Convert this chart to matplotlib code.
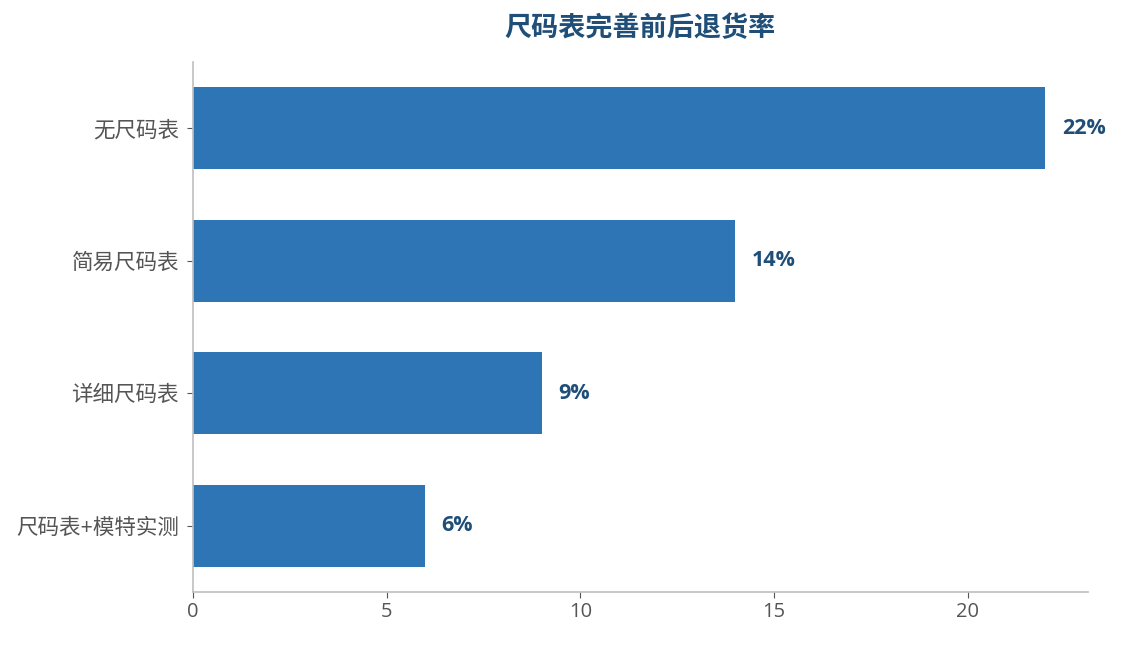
import matplotlib
matplotlib.use("Agg")
import matplotlib.pyplot as plt

plt.rcParams['font.family'] = ['Open Sans', 'Noto Sans CJK SC', 'DejaVu Sans']

categories = ["无尺码表", "简易尺码表", "详细尺码表", "尺码表+模特实测"]
return_rates = [22, 14, 9, 6]
value_labels = ["22%", "14%", "9%", "6%"]
x_ticks = [0, 5, 10, 15, 20]

bar_color = "#2E75B6"
label_color = "#1F4E79"
tick_color = "#555555"
spine_color = "#BFBFBF"

fig = plt.figure(figsize=(11.24, 6.45), dpi=100)
ax = fig.add_axes([0.1717, 0.0822, 0.7963, 0.8218])

ypos = list(range(len(categories)))
ax.barh(ypos, return_rates, height=0.62, color=bar_color)
ax.set_yticks(ypos)
ax.set_yticklabels(categories)
ax.set_ylim(3.5, -0.5)
ax.set_xlim(0, 23.1)
ax.set_xticks(x_ticks)

for y, v, lab in zip(ypos, return_rates, value_labels):
    ax.text(v + 0.42, y, lab, va='center', ha='left', fontsize=15.5,
            fontweight='bold', color=label_color)

for s in ['top', 'right']:
    ax.spines[s].set_visible(False)
for s in ['left', 'bottom']:
    ax.spines[s].set_color(spine_color)
    ax.spines[s].set_linewidth(1.2)

ax.tick_params(axis='both', colors=tick_color, length=4)
ax.tick_params(axis='x', labelsize=14.5)
ax.tick_params(axis='y', labelsize=15.5, pad=6)

fig.text(0.5 * (0.1717 + 0.968), 0.955, "尺码表完善前后退货率", ha='center', va='center',
         fontsize=19.5, fontweight='bold', color=label_color)

fig.savefig("out.png", dpi=100)
